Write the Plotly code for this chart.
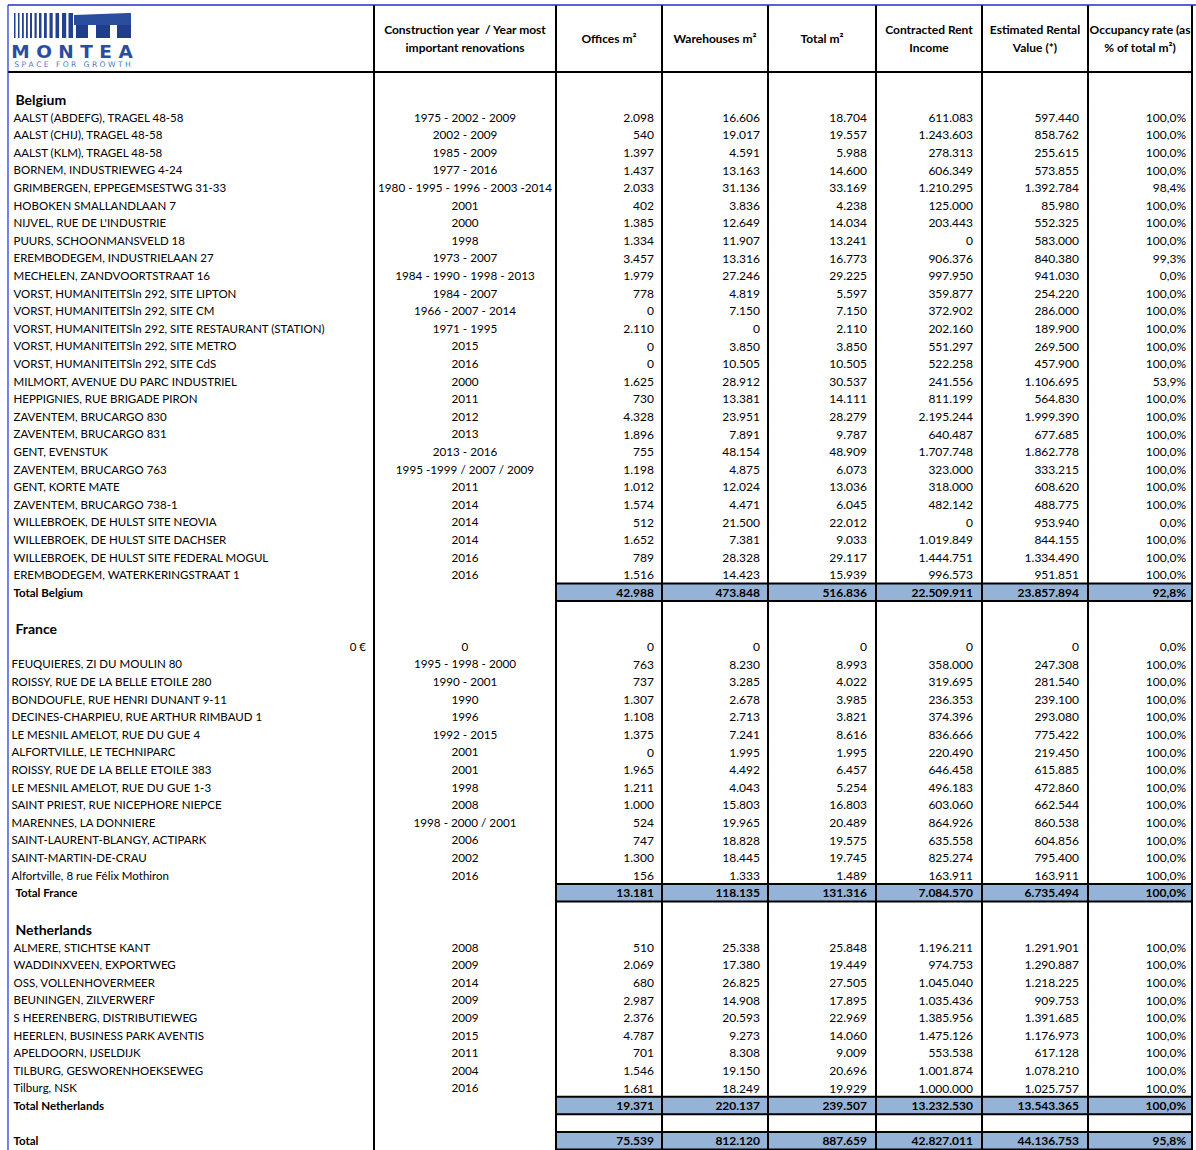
import plotly.graph_objects as go

# ------------------------------------------------------------------ data
header_labels = [
    "Construction year  / Year most<br>important renovations",
    "Offices m²",
    "Warehouses m²",
    "Total m²",
    "Contracted Rent<br>Income",
    "Estimated Rental<br>Value (*)",
    "Occupancy rate (as<br>% of total m²)",
]

be_names = [
    "AALST (ABDEFG), TRAGEL 48-58", "AALST (CHIJ), TRAGEL 48-58", "AALST (KLM), TRAGEL 48-58",
    "BORNEM, INDUSTRIEWEG 4-24", "GRIMBERGEN, EPPEGEMSESTWG 31-33", "HOBOKEN SMALLANDLAAN 7",
    "NIJVEL, RUE DE L'INDUSTRIE", "PUURS, SCHOONMANSVELD 18", "EREMBODEGEM, INDUSTRIELAAN 27",
    "MECHELEN, ZANDVOORTSTRAAT 16", "VORST, HUMANITEITSln 292, SITE LIPTON",
    "VORST, HUMANITEITSln 292, SITE CM", "VORST, HUMANITEITSln 292, SITE RESTAURANT (STATION)",
    "VORST, HUMANITEITSln 292, SITE METRO", "VORST, HUMANITEITSln 292, SITE CdS",
    "MILMORT, AVENUE DU PARC INDUSTRIEL", "HEPPIGNIES, RUE BRIGADE PIRON", "ZAVENTEM, BRUCARGO 830",
    "ZAVENTEM, BRUCARGO 831", "GENT, EVENSTUK", "ZAVENTEM, BRUCARGO 763", "GENT, KORTE MATE",
    "ZAVENTEM, BRUCARGO 738-1", "WILLEBROEK, DE HULST SITE NEOVIA", "WILLEBROEK, DE HULST SITE DACHSER",
    "WILLEBROEK, DE HULST SITE FEDERAL MOGUL", "EREMBODEGEM, WATERKERINGSTRAAT 1",
]
be_years = [
    "1975 - 2002 - 2009", "2002 - 2009", "1985 - 2009", "1977 - 2016", "1980 - 1995 - 1996 - 2003 -2014",
    "2001", "2000", "1998", "1973 - 2007", "1984 - 1990 - 1998 - 2013", "1984 - 2007", "1966 - 2007 - 2014",
    "1971 - 1995", "2015", "2016", "2000", "2011", "2012", "2013", "2013 - 2016", "1995 -1999 / 2007 / 2009",
    "2011", "2014", "2014", "2014", "2016", "2016",
]
be_offices = [2098, 540, 1397, 1437, 2033, 402, 1385, 1334, 3457, 1979, 778, 0, 2110, 0, 0, 1625, 730,
              4328, 1896, 755, 1198, 1012, 1574, 512, 1652, 789, 1516]
be_warehouses = [16606, 19017, 4591, 13163, 31136, 3836, 12649, 11907, 13316, 27246, 4819, 7150, 0, 3850,
                 10505, 28912, 13381, 23951, 7891, 48154, 4875, 12024, 4471, 21500, 7381, 28328, 14423]
be_total = [18704, 19557, 5988, 14600, 33169, 4238, 14034, 13241, 16773, 29225, 5597, 7150, 2110, 3850,
            10505, 30537, 14111, 28279, 9787, 48909, 6073, 13036, 6045, 22012, 9033, 29117, 15939]
be_rent = [611083, 1243603, 278313, 606349, 1210295, 125000, 203443, 0, 906376, 997950, 359877, 372902,
           202160, 551297, 522258, 241556, 811199, 2195244, 640487, 1707748, 323000, 318000, 482142, 0,
           1019849, 1444751, 996573]
be_erv = [597440, 858762, 255615, 573855, 1392784, 85980, 552325, 583000, 840380, 941030, 254220, 286000,
          189900, 269500, 457900, 1106695, 564830, 1999390, 677685, 1862778, 333215, 608620, 488775,
          953940, 844155, 1334490, 951851]
be_occ = [100.0, 100.0, 100.0, 100.0, 98.4, 100.0, 100.0, 100.0, 99.3, 0.0, 100.0, 100.0, 100.0, 100.0,
          100.0, 53.9, 100.0, 100.0, 100.0, 100.0, 100.0, 100.0, 100.0, 0.0, 100.0, 100.0, 100.0]

fr_names = [
    "0 €", "FEUQUIERES, ZI DU MOULIN 80", "ROISSY, RUE DE LA BELLE ETOILE 280",
    "BONDOUFLE, RUE HENRI DUNANT 9-11", "DECINES-CHARPIEU, RUE ARTHUR RIMBAUD 1",
    "LE MESNIL AMELOT, RUE DU GUE 4", "ALFORTVILLE, LE TECHNIPARC", "ROISSY, RUE DE LA BELLE ETOILE 383",
    "LE MESNIL AMELOT, RUE DU GUE 1-3", "SAINT PRIEST, RUE NICEPHORE NIEPCE", "MARENNES, LA DONNIERE",
    "SAINT-LAURENT-BLANGY, ACTIPARK", "SAINT-MARTIN-DE-CRAU", "Alfortville, 8 rue Félix Mothiron",
]
fr_years = ["0", "1995 - 1998 - 2000", "1990 - 2001", "1990", "1996", "1992 - 2015", "2001", "2001",
            "1998", "2008", "1998 - 2000 / 2001", "2006", "2002", "2016"]
fr_offices = [0, 763, 737, 1307, 1108, 1375, 0, 1965, 1211, 1000, 524, 747, 1300, 156]
fr_warehouses = [0, 8230, 3285, 2678, 2713, 7241, 1995, 4492, 4043, 15803, 19965, 18828, 18445, 1333]
fr_total = [0, 8993, 4022, 3985, 3821, 8616, 1995, 6457, 5254, 16803, 20489, 19575, 19745, 1489]
fr_rent = [0, 358000, 319695, 236353, 374396, 836666, 220490, 646458, 496183, 603060, 864926, 635558,
           825274, 163911]
fr_erv = [0, 247308, 281540, 239100, 293080, 775422, 219450, 615885, 472860, 662544, 860538, 604856,
          795400, 163911]
fr_occ = [0.0, 100.0, 100.0, 100.0, 100.0, 100.0, 100.0, 100.0, 100.0, 100.0, 100.0, 100.0, 100.0, 100.0]

nl_names = ["ALMERE, STICHTSE KANT", "WADDINXVEEN, EXPORTWEG", "OSS, VOLLENHOVERMEER",
            "BEUNINGEN, ZILVERWERF", "S HEERENBERG, DISTRIBUTIEWEG", "HEERLEN, BUSINESS PARK AVENTIS",
            "APELDOORN, IJSELDIJK", "TILBURG, GESWORENHOEKSEWEG", "Tilburg, NSK"]
nl_years = ["2008", "2009", "2014", "2009", "2009", "2015", "2011", "2004", "2016"]
nl_offices = [510, 2069, 680, 2987, 2376, 4787, 701, 1546, 1681]
nl_warehouses = [25338, 17380, 26825, 14908, 20593, 9273, 8308, 19150, 18249]
nl_total = [25848, 19449, 27505, 17895, 22969, 14060, 9009, 20696, 19929]
nl_rent = [1196211, 974753, 1045040, 1035436, 1385956, 1475126, 553538, 1001874, 1000000]
nl_erv = [1291901, 1290887, 1218225, 909753, 1391685, 1176973, 617128, 1078210, 1025757]
nl_occ = [100.0, 100.0, 100.0, 100.0, 100.0, 100.0, 100.0, 100.0, 100.0]

total_labels = ["Total Belgium", "Total France", "Total Netherlands", "Total"]
total_offices = [42988, 13181, 19371, 75539]
total_warehouses = [473848, 118135, 220137, 812120]
total_total = [516836, 131316, 239507, 887659]
total_rent = [22509911, 7084570, 13232530, 42827011]
total_erv = [23857894, 6735494, 13543365, 44136753]
total_occ = [92.8, 100.0, 100.0, 95.8]

# ------------------------------------------------------------------ geometry / style
W, H = 1196, 1150
FONT = "Lato"
TXT = "#000000"
BAND = "#95B3D7"
col_edges = [8, 374, 556, 662, 768, 876, 982, 1088, 1192]
num_pad = [8, 8, 9, 9, 9, 6]
ROW_H = 17.6
HEADER_BOTTOM = 72.0
heading_h = [36.3, 18.8, 19.2]
entry_x = [13.5, 11.5, 13.5]
total_x = [13.5, 15.5, 13.5, 13.5]
TY = 1.6          # vertical nudge of text inside a row
YEAR_X = (col_edges[1] + col_edges[2]) / 2
NAME_SZ, NUM_SZ, YEAR_SZ, HEAD_SZ, HDR_SZ = 11.5, 12.0, 11.7, 14.0, 12.0


def fmt_int(v):
    return f"{v:,}".replace(",", ".")


def fmt_pct(v):
    return f"{v:.1f}".replace(".", ",") + "%"


countries = [
    ("Belgium", be_names, be_years, be_offices, be_warehouses, be_total, be_rent, be_erv, be_occ),
    ("France", fr_names, fr_years, fr_offices, fr_warehouses, fr_total, fr_rent, fr_erv, fr_occ),
    ("Netherlands", nl_names, nl_years, nl_offices, nl_warehouses, nl_total, nl_rent, nl_erv, nl_occ),
]

name_x, name_y, name_t, name_pos, name_sz = [], [], [], [], []
year_x, year_y, year_t = [], [], []
num_x, num_y, num_t = [], [], []
bands = []


def add_numbers(yc, vals, bold=False):
    for j, t in enumerate(vals):
        num_x.append(col_edges[j + 3] - num_pad[j])
        num_y.append(yc)
        num_t.append(f"<b>{t}</b>" if bold else t)


def add_total(idx, top):
    bot = top + ROW_H
    yc = (top + bot) / 2 + TY
    bands.append((top, bot))
    name_x.append(total_x[idx])
    name_y.append(yc)
    name_t.append(f"<b>{total_labels[idx]}</b>")
    name_pos.append("middle right")
    name_sz.append(NAME_SZ)
    add_numbers(yc, [fmt_int(total_offices[idx]), fmt_int(total_warehouses[idx]),
                     fmt_int(total_total[idx]), fmt_int(total_rent[idx]),
                     fmt_int(total_erv[idx]), fmt_pct(total_occ[idx])], bold=True)
    return bot


cursor = HEADER_BOTTOM
for ci, (label, names, years, off, wh, tot, rent, erv, occ) in enumerate(countries):
    if ci > 0:
        cursor += ROW_H  # blank row
    cursor += heading_h[ci]
    name_x.append(15.5)
    name_y.append(cursor - 8.5 + TY)
    name_t.append(f"<b>{label}</b>")
    name_pos.append("middle right")
    name_sz.append(HEAD_SZ)
    for k in range(len(names)):
        top = cursor
        cursor += ROW_H
        yc = (top + cursor) / 2 + TY
        if names[k] == "0 €":
            name_x.append(col_edges[1] - 8)
            name_pos.append("middle left")
        else:
            name_x.append(entry_x[ci])
            name_pos.append("middle right")
        name_y.append(yc)
        name_t.append(names[k])
        name_sz.append(NAME_SZ)
        year_x.append(YEAR_X)
        year_y.append(yc)
        year_t.append(years[k])
        add_numbers(yc, [fmt_int(off[k]), fmt_int(wh[k]), fmt_int(tot[k]),
                         fmt_int(rent[k]), fmt_int(erv[k]), fmt_pct(occ[k])])
    cursor = add_total(ci, cursor)

cursor += ROW_H  # blank row before grand total
cursor = add_total(3, cursor)

# header text
hdr_x, hdr_y, hdr_t = [], [], []
for i, lab in enumerate(header_labels):
    cx = (col_edges[i + 1] + col_edges[i + 2]) / 2
    parts = lab.split("<br>")
    if len(parts) == 1:
        hdr_x.append(cx); hdr_y.append(39.5 + 0.5); hdr_t.append(f"<b>{parts[0]}</b>")
    else:
        for p, yy in zip(parts, (31, 49)):
            hdr_x.append(cx); hdr_y.append(yy); hdr_t.append(f"<b>{p}</b>")

fig = go.Figure()
fig.add_trace(go.Scatter(x=name_x, y=name_y, text=name_t, mode="text", textposition=name_pos,
                         textfont=dict(family=FONT, size=name_sz, color=TXT), cliponaxis=False,
                         hoverinfo="skip"))
fig.add_trace(go.Scatter(x=year_x, y=year_y, text=year_t, mode="text", textposition="middle center",
                         textfont=dict(family=FONT, size=YEAR_SZ, color=TXT), cliponaxis=False,
                         hoverinfo="skip"))
fig.add_trace(go.Scatter(x=num_x, y=num_y, text=num_t, mode="text", textposition="middle left",
                         textfont=dict(family=FONT, size=NUM_SZ, color=TXT), cliponaxis=False,
                         hoverinfo="skip"))
fig.add_trace(go.Scatter(x=hdr_x, y=hdr_y, text=hdr_t, mode="text", textposition="middle center",
                         textfont=dict(family=FONT, size=HDR_SZ, color=TXT), cliponaxis=False,
                         hoverinfo="skip"))

shapes = []
for top, bot in bands:
    shapes.append(dict(type="rect", x0=col_edges[2], x1=col_edges[-1], y0=top, y1=bot,
                       fillcolor=BAND, line=dict(width=0), layer="below"))
for top, bot in bands:
    for yy in (top, bot):
        shapes.append(dict(type="line", x0=col_edges[2], x1=col_edges[-1], y0=yy, y1=yy,
                           line=dict(color="black", width=2), layer="below"))
for xx in col_edges[1:]:
    shapes.append(dict(type="line", x0=xx, x1=xx, y0=5, y1=H, line=dict(color="black", width=2),
                       layer="below"))
shapes.append(dict(type="line", x0=col_edges[0], x1=col_edges[-1], y0=HEADER_BOTTOM, y1=HEADER_BOTTOM,
                   line=dict(color="black", width=2), layer="below"))
shapes.append(dict(type="line", x0=col_edges[0], x1=W, y0=5, y1=5, line=dict(color="#1f2fd0", width=1.5)))
shapes.append(dict(type="line", x0=col_edges[0], x1=col_edges[0], y0=5, y1=H,
                   line=dict(color="#1f2fd0", width=1.2)))

# logo (decoration)
LOGO = "#24418f"
bar_specs = [(14, 1.5), (18, 1.5), (22, 1.8), (26, 1.8), (30, 2.0), (34.5, 2.2), (39, 2.5), (44, 2.8),
             (49.5, 3.2), (55.5, 3.6), (62, 4.2), (68.5, 4.5)]
for bx, bw in bar_specs:
    shapes.append(dict(type="rect", x0=bx, x1=bx + bw, y0=13, y1=38, fillcolor=LOGO,
                       line=dict(width=0)))
shapes.append(dict(type="path", path="M 74 15 L 128 13 L 131 13 L 131 25 L 74 25 Z",
                   fillcolor="#2a4d9e", line=dict(width=0)))
for lx0, lx1 in [(76, 88), (96, 110), (117, 131)]:
    shapes.append(dict(type="rect", x0=lx0, x1=lx1, y0=25, y1=38, fillcolor="#1f3d8a",
                       line=dict(width=0)))

fig.add_trace(go.Scatter(x=[72], y=[53], text=["<b>M O N T E A</b>"], mode="text",
                         textposition="middle center",
                         textfont=dict(family="DejaVu Sans", size=18.5, color="#2a4d9e"),
                         cliponaxis=False, hoverinfo="skip"))
fig.add_trace(go.Scatter(x=[72.5], y=[65], text=["S P A C E   F O R   G R O W T H"], mode="text",
                         textposition="middle center",
                         textfont=dict(family="DejaVu Sans", size=7.6, color="#4a79c4"),
                         cliponaxis=False, hoverinfo="skip"))

fig.update_layout(
    width=W, height=H, margin=dict(l=0, r=0, t=0, b=0), showlegend=False,
    paper_bgcolor="white", plot_bgcolor="white", shapes=shapes,
    xaxis=dict(range=[0, W], visible=False, fixedrange=True),
    yaxis=dict(range=[H, 0], visible=False, fixedrange=True),
)

fig.write_html("out.html", config={"displayModeBar": False, "staticPlot": True},
               post_script="document.body.style.margin='0';")
